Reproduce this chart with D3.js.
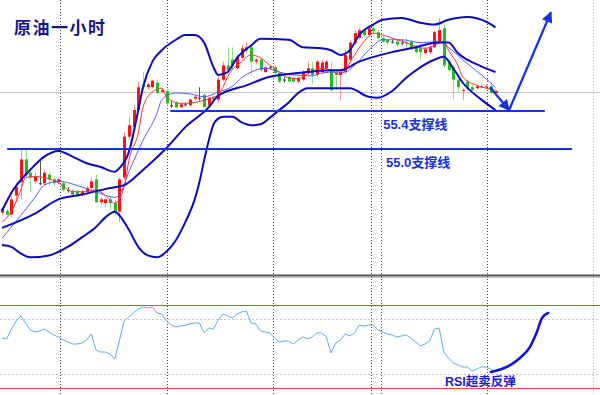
<!DOCTYPE html>
<html><head><meta charset="utf-8">
<script src="https://cdn.jsdelivr.net/npm/d3@7/dist/d3.min.js"></script>
<style>html,body{margin:0;padding:0;background:#fff;overflow:hidden}</style>
</head><body><svg id="c" width="600" height="395"></svg>
<script>
// ---- candle data (hourly crude oil) ----
const openP = [54.33,54.35,54.31,54.51,54.65,54.89,54.75,54.66,54.64,54.64,
54.73,54.68,54.65,54.64,54.57,54.56,54.55,54.52,54.55,54.59,
54.68,54.44,54.43,54.47,54.43,54.34,54.70,55.13,55.23,55.41,
55.68,55.65,55.65,55.70,55.60,55.61,55.46,55.49,55.44,55.47,
55.46,55.53,55.54,55.57,55.46,55.54,55.52,55.73,55.88,55.94,
55.85,55.96,56.04,56.07,55.92,55.94,55.81,55.86,55.86,55.80,
55.73,55.76,55.75,55.71,55.73,55.80,55.85,55.78,55.81,55.85,
55.83,55.81,55.78,55.81,55.94,56.12,56.17,56.25,56.20,56.27,
56.23,56.17,56.15,56.13,56.13,56.12,56.12,56.13,56.07,56.06,
56.01,56.02,56.07,56.13,56.27,55.91,55.86,55.73,55.61,55.71,
55.65,55.64,55.65,55.65,55.66,55.59];
const closeP = [54.37,54.31,54.47,54.60,54.89,54.73,54.70,54.71,54.64,54.75,
54.68,54.64,54.68,54.57,54.57,54.52,54.52,54.55,54.59,54.66,
54.44,54.47,54.47,54.43,54.34,54.68,55.13,55.25,55.41,55.65,
55.65,55.68,55.72,55.59,55.62,55.48,55.46,55.44,55.47,55.47,
55.52,55.55,55.54,55.44,55.54,55.52,55.73,55.88,55.83,55.87,
55.97,56.06,56.07,55.92,55.94,55.83,55.86,55.86,55.80,55.71,
55.73,55.71,55.71,55.75,55.81,55.85,55.78,55.92,55.91,55.92,
55.62,55.78,55.81,55.99,56.12,56.22,56.25,56.20,56.27,56.24,
56.17,56.13,56.12,56.13,56.10,56.12,56.11,56.06,56.02,56.02,
56.05,56.07,56.23,56.25,55.88,55.83,55.73,55.65,55.62,55.64,
55.62,55.66,55.66,55.66,55.59,55.61];
const highP = [54.39,54.37,54.50,54.64,55.01,55.01,54.80,54.76,54.87,54.78,
54.76,54.70,54.70,54.66,54.60,54.58,54.57,54.57,54.61,54.70,
54.73,54.49,54.49,54.50,54.47,54.70,55.18,55.33,55.46,55.71,
55.81,55.70,55.73,55.73,55.64,55.63,55.51,55.51,55.48,55.49,
55.53,55.57,55.65,55.59,55.55,55.56,55.76,55.92,56.07,56.07,
55.99,56.10,56.13,56.10,55.96,55.96,55.88,55.88,55.88,55.81,
55.76,55.77,55.76,55.76,55.83,55.92,55.92,55.94,55.94,55.94,
55.92,55.83,55.83,56.04,56.15,56.25,56.27,56.27,56.31,56.31,
56.25,56.19,56.16,56.15,56.15,56.15,56.17,56.15,56.10,56.10,
56.07,56.10,56.25,56.38,56.31,55.94,55.88,55.75,55.64,55.73,
55.68,55.68,55.69,55.68,55.69,55.62];
const lowP = [54.30,54.28,54.28,54.44,54.47,54.70,54.55,54.63,54.62,54.62,
54.62,54.61,54.63,54.55,54.54,54.50,54.50,54.50,54.54,54.57,
54.43,54.41,54.39,54.36,54.30,54.23,54.68,55.10,55.20,55.39,
55.62,55.62,55.64,55.57,55.59,55.46,55.43,55.42,55.43,55.45,
55.45,55.51,55.51,55.43,55.45,55.49,55.49,55.71,55.81,55.84,
55.83,55.94,56.02,55.78,55.89,55.81,55.80,55.84,55.78,55.69,
55.70,55.70,55.70,55.69,55.71,55.78,55.68,55.76,55.79,55.83,
55.60,55.62,55.52,55.79,55.91,56.10,56.15,56.18,56.18,56.21,
56.15,56.12,56.10,56.11,56.07,56.09,56.04,56.04,56.00,55.94,
55.99,56.00,56.06,56.11,55.86,55.81,55.52,55.60,55.52,55.62,
55.61,55.63,55.64,55.64,55.58,55.58];

// ---- indicators: [bar, price] ----
const bbUpper = [[0,54.35],[2,54.54],[6,54.78],[9,54.92],[12,54.98],[15,54.92],[18,54.85],[21,54.81],[24,54.76],[25,54.80],[27,54.97],[29,55.41],[30,55.65],[32,55.92],[34,56.04],[37,56.15],[39,56.20],[41,56.20],[43,56.12],[45,55.86],[46,55.78],[48,55.81],[50,55.96],[53,56.09],[55,56.16],[61,56.15],[64,56.07],[68,56.06],[70,56.04],[72,55.99],[74,56.04],[76,56.20],[79,56.31],[81,56.36],[85,56.38],[89,56.33],[92,56.31],[95,56.36],[99,56.39],[103,56.34],[105,56.28]];
const bbMiddle = [[0,54.17],[7,54.32],[12,54.47],[17,54.52],[23,54.59],[26,54.62],[30,54.78],[35,55.01],[39,55.23],[44,55.44],[46,55.56],[52,55.67],[57,55.76],[63,55.80],[70,55.83],[72,55.83],[76,55.92],[83,56.02],[87,56.06],[93,56.12],[95,56.12],[97,56.01],[102,55.87],[105,55.81]];
const bbLower = [[0,53.99],[2,53.97],[4,53.90],[6,53.86],[10,53.88],[14,53.97],[17,54.07],[20,54.18],[22,54.28],[24,54.34],[25,54.30],[27,54.15],[29,53.97],[31,53.88],[33,53.86],[35,53.92],[37,54.04],[39,54.23],[41,54.47],[42,54.65],[43,54.88],[44,55.09],[45,55.26],[46,55.32],[47,55.34],[49,55.34],[51,55.28],[53,55.25],[55,55.26],[57,55.33],[59,55.41],[61,55.49],[63,55.59],[65,55.64],[70,55.64],[74,55.64],[78,55.55],[80,55.54],[83,55.61],[86,55.75],[89,55.86],[92,55.94],[94,55.97],[96,55.85],[98,55.70],[102,55.52],[105,55.41]];
const maFast = [[0,54.23],[2,54.34],[4,54.57],[5,54.70],[7,54.71],[9,54.70],[11,54.67],[13,54.61],[15,54.55],[18,54.55],[20,54.57],[22,54.51],[24,54.43],[26,54.60],[27,54.88],[29,55.17],[30,55.44],[32,55.60],[34,55.64],[35,55.55],[38,55.48],[41,55.49],[44,55.53],[46,55.57],[47,55.65],[48,55.76],[51,55.92],[53,55.99],[55,55.96],[57,55.88],[59,55.81],[61,55.75],[63,55.74],[65,55.79],[68,55.85],[70,55.83],[72,55.78],[73,55.83],[75,55.99],[77,56.13],[79,56.22],[81,56.20],[84,56.15],[86,56.12],[88,56.08],[90,56.06],[92,56.09],[94,56.13],[95,56.04],[97,55.88],[98,55.76],[101,55.67],[103,55.64],[105,55.62]];
const maSlow = [[0,54.06],[4,54.30],[7,54.49],[9,54.62],[12,54.66],[17,54.60],[20,54.55],[24,54.49],[25,54.52],[27,54.76],[30,55.09],[33,55.38],[34,55.52],[37,55.59],[40,55.58],[43,55.55],[46,55.60],[49,55.66],[51,55.75],[53,55.81],[56,55.85],[59,55.81],[62,55.78],[66,55.77],[68,55.80],[71,55.81],[73,55.81],[75,55.88],[78,56.04],[81,56.15],[85,56.15],[89,56.12],[93,56.13],[95,56.07],[98,55.94],[102,55.78],[105,55.65]];

// ---- RSI per bar ----
const rsi = [56.1,55.4,62.6,68.4,72.0,67.0,61.9,60.5,61.2,62.6,
60.5,58.3,56.9,54.7,53.3,51.8,51.8,52.5,54.7,59.0,
47.5,46.0,46.0,44.6,41.0,54.7,68.4,71.3,74.2,77.1,
78.6,77.8,78.6,74.2,73.5,68.4,65.5,64.1,64.8,65.5,
66.3,67.0,67.0,59.8,63.4,62.6,69.2,73.5,72.0,70.6,
73.5,74.9,75.7,67.0,66.3,61.2,60.5,59.8,56.1,53.3,
54.0,54.0,51.8,54.7,56.9,55.4,56.9,59.8,59.8,56.9,
45.3,52.5,54.7,59.0,57.6,59.8,65.5,64.8,65.5,65.5,
61.9,60.5,59.0,58.3,56.9,57.6,58.3,56.1,53.3,50.4,
51.8,54.0,62.6,63.4,46.0,41.7,38.1,36.6,35.2,35.2,
32.3,33.7,35.2,35.2,33.7,31.6];
const rsiLevelsRed = [80, 20];
const rsiLevelsDot = [70, 30];

// ---- annotations ----
const currentPrice = 55.60;
const supports = [{price:55.4, from:35.8, to:115.5, label:"55.4支撑线", lx:81.1},
                  {price:55.0, from:1.1, to:121.3, label:"55.0支撑线", lx:81.7}];
const arrowPath = [[103.8,55.65],[107.9,55.41],[116.8,56.44]];
const rsiRebound = [[104,31.6],[107.4,35.2],[110.2,41.7],[112.3,49.6],[113.8,60.5],[114.9,70.6],[116.2,74.2]];
const separators = [12.4, 35.1, 57.7, 78.5, 80.6, 103.1, 125.8];
const title = "原油一小时";
const rsiNote = "RSI超卖反弹";

// ---- scales ----
const x = d3.scaleLinear().domain([0,105]).range([2,495.5]);
const y = d3.scaleLinear().domain([55.0,55.4]).range([149,111]);
const yr = d3.scaleLinear().domain([20,80]).range([388,305]);
const svg = d3.select("#c");
const BLUE = "#1530e8";

const defs = svg.append("defs");
defs.append("clipPath").attr("id","mainClip").append("rect").attr("x",0).attr("y",0).attr("width",600).attr("height",275);
defs.append("marker").attr("id","ah").attr("viewBox","0 0 10 10").attr("refX",9).attr("refY",5)
  .attr("markerWidth",13).attr("markerHeight",11).attr("markerUnits","userSpaceOnUse").attr("orient","auto")
  .append("path").attr("d","M0,0 L10,5 L0,10 Z").attr("fill",BLUE);

// vertical dotted separators
svg.append("g").selectAll("line").data(separators).join("line")
  .attr("x1",d=>Math.round(x(d))+0.5).attr("x2",d=>Math.round(x(d))+0.5)
  .attr("y1",0).attr("y2",395)
  .attr("stroke",(d,i)=> i===separators.length-1 ? "#aaa" : "#444")
  .attr("stroke-width",1).attr("stroke-dasharray","1,2");

// current price line
svg.append("line").attr("x1",0).attr("x2",600)
  .attr("y1",Math.round(y(currentPrice))+0.5).attr("y2",Math.round(y(currentPrice))+0.5)
  .attr("stroke","#c8c8c8").attr("stroke-width",1);

const main = svg.append("g").attr("clip-path","url(#mainClip)");

// candles
const bars = d3.range(openP.length);
const cg = main.append("g");
bars.forEach(i=>{
  const o=openP[i], c=closeP[i];
  const up = c>o, doji = c===o;
  const cx = Math.round(x(i));
  const wick = doji ? "#555" : (up ? "#ff8c8c" : "#8fe08f");
  const body = doji ? "#444" : (up ? "#ff1010" : "#22bb22");
  cg.append("line").attr("x1",cx+0.5).attr("x2",cx+0.5)
    .attr("y1",y(highP[i])).attr("y2",y(lowP[i])).attr("stroke",wick).attr("stroke-width",1);
  const top = y(Math.max(o,c)), bot = y(Math.min(o,c));
  cg.append("rect").attr("x",cx-1).attr("width",3)
    .attr("y",top).attr("height",Math.max(1,bot-top)).attr("fill",body);
});

const line = d3.line().x(d=>x(d[0])).y(d=>y(d[1])).curve(d3.curveMonotoneX);
main.append("path").attr("d",line(maSlow)).attr("fill","none").attr("stroke","#5a5aff").attr("stroke-width",1);
main.append("path").attr("d",line(maFast)).attr("fill","none").attr("stroke","#ff3030").attr("stroke-width",1);
[bbUpper,bbMiddle,bbLower].forEach(s=>{
  main.append("path").attr("d",line(s)).attr("fill","none").attr("stroke","#0a0ac8").attr("stroke-width",2);
});

// support lines
supports.forEach(s=>{
  svg.append("line").attr("x1",x(s.from)).attr("x2",x(s.to)).attr("y1",y(s.price)).attr("y2",y(s.price))
    .attr("stroke",BLUE).attr("stroke-width",2.2);
  svg.append("text").attr("x",x(s.lx)).attr("y",y(s.price)+18)
    .attr("font-family","'Liberation Sans','Noto Sans CJK SC',sans-serif").attr("font-weight","bold")
    .attr("font-size",13).attr("fill",BLUE).text(s.label);
});

// arrows
svg.append("path").attr("d",d3.line().x(d=>x(d[0])).y(d=>y(d[1]))(arrowPath.slice(0,2)))
  .attr("fill","none").attr("stroke",BLUE).attr("stroke-width",2.2).attr("marker-end","url(#ah)");
svg.append("path").attr("d",d3.line().x(d=>x(d[0])).y(d=>y(d[1]))(arrowPath.slice(1)))
  .attr("fill","none").attr("stroke",BLUE).attr("stroke-width",2.2).attr("marker-end","url(#ah)");

// title
svg.append("text").attr("x",14).attr("y",34).attr("font-family","'Noto Sans CJK SC',sans-serif")
  .attr("font-weight","bold").attr("font-size",17).attr("letter-spacing",1.5)
  .attr("fill","#16168a").text(title);

// ---- RSI panel ----
svg.append("line").attr("x1",0).attr("x2",600).attr("y1",275.5).attr("y2",275.5).attr("stroke","#555").attr("stroke-width",2);
svg.append("line").attr("x1",0).attr("x2",600).attr("y1",277.5).attr("y2",277.5).attr("stroke","#c0c0c0").attr("stroke-width",1);
svg.append("g").selectAll("line").data(rsiLevelsRed).join("line")
  .attr("x1",0).attr("x2",600).attr("y1",d=>Math.round(yr(d))+0.5).attr("y2",d=>Math.round(yr(d))+0.5)
  .attr("stroke","#ff3b3b").attr("stroke-width",1);
svg.append("g").selectAll("line").data(rsiLevelsDot).join("line")
  .attr("x1",0).attr("x2",600).attr("y1",d=>Math.round(yr(d))+0.5).attr("y2",d=>Math.round(yr(d))+0.5)
  .attr("stroke","#c4c4c4").attr("stroke-width",1).attr("stroke-dasharray","2,2");
svg.append("path").attr("d",d3.line().x((d,i)=>x(i)).y(d=>yr(d))(rsi))
  .attr("fill","none").attr("stroke","#5aaaff").attr("stroke-width",1);
svg.append("path").attr("d",d3.line().x(d=>x(d[0])).y(d=>yr(d[1])).curve(d3.curveMonotoneX)(rsiRebound))
  .attr("fill","none").attr("stroke","#1010dd").attr("stroke-width",2.5).attr("stroke-linecap","round");
svg.append("text").attr("x",445).attr("y",386)
  .attr("font-family","'Liberation Sans','Noto Sans CJK SC',sans-serif").attr("font-weight","bold")
  .attr("font-size",12.5).attr("fill","#1a1ae0").text(rsiNote);
</script></body></html>
